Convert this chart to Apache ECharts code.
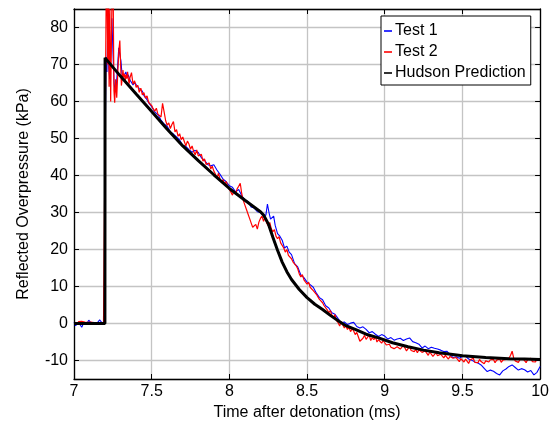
<!DOCTYPE html>
<html><head><meta charset="utf-8">
<script src="https://cdn.jsdelivr.net/npm/echarts@6/dist/echarts.min.js"></script>
<style>html,body{margin:0;padding:0;background:#fff}#c{width:552px;height:426px}</style>
</head><body><div id="c"></div>
<script>
// ---- Data ----
const seriesNames = ["Test 1", "Test 2", "Hudson Prediction"];
const xTicks = [7, 7.5, 8, 8.5, 9, 9.5, 10];
const yTicks = [-10, 0, 10, 20, 30, 40, 50, 60, 70, 80];

const test1Time = [
7.000,7.010,7.020,7.030,7.040,7.050,7.060,7.070,7.080,7.095,7.110,7.125,7.140,7.155,7.165,7.180,7.195,
7.200,7.206,7.212,7.218,7.224,7.230,7.237,7.244,7.251,7.258,7.265,7.272,7.280,7.288,7.295,7.302,7.310,7.318,7.326,7.334,7.342,7.350,
7.360,7.370,7.380,7.390,7.400,7.410,7.420,7.430,7.440,7.450,7.460,7.470,7.480,7.490,7.500,
7.52,7.54,7.56,7.58,7.60,7.62,7.64,7.66,7.68,7.70,7.72,7.74,7.76,7.78,7.80,7.82,7.84,7.86,7.88,7.90,
7.92,7.94,7.96,7.98,8.00,8.02,8.04,8.06,8.08,8.10,8.12,8.14,8.16,8.18,8.20,8.22,8.235,8.245,8.255,8.265,
8.275,8.285,8.295,8.31,8.325,8.34,8.355,8.37,8.385,8.40,8.42,8.44,8.46,8.48,8.50,8.52,8.54,8.56,8.58,8.60,
8.62,8.64,8.66,8.68,8.70,8.72,8.74,8.76,8.78,8.80,8.82,8.84,8.86,8.88,8.90,8.92,8.94,8.96,8.98,9.00,
9.02,9.04,9.06,9.08,9.10,9.12,9.14,9.16,9.18,9.20,9.22,9.24,9.26,9.28,9.30,9.32,9.34,9.36,9.38,9.40,
9.42,9.44,9.46,9.48,9.50,9.52,9.54,9.56,9.58,9.60,9.62,9.64,9.66,9.68,9.70,9.72,9.74,9.76,9.78,9.80,
9.82,9.84,9.86,9.88,9.90,9.92,9.94,9.96,9.98,10.00];
const test1Values = [
0.3,-0.6,-0.8,0.2,-0.4,-1.0,0.0,0.4,-0.2,0.9,0.1,0.3,-0.1,0.4,1.0,0.2,0.3,
45,72,68,81.5,69,66,74,82.5,73,65,62.5,64,69,74.5,75,71,67,67.5,67.3,68,66.5,67.2,
65.8,66,64.5,65.2,64.6,64.8,63.5,63.3,62.8,61.6,61.8,60.5,59.7,59.9,58.6,
57.2,56.4,55.0,53.9,53.3,51.8,51.2,50.4,49.6,48.2,47.9,47.0,46.3,46.8,46.2,44.8,44.1,43.0,42.6,42.9,
41.5,40.3,39.0,38.3,37.2,36.8,35.6,36.2,34.5,33.4,33.0,31.5,31.2,30.2,30.0,29.0,29.3,32.3,30.0,28.2,
28.6,29.0,26.5,24.3,23.6,22.5,20.4,20.9,19.3,18.6,16.2,15.3,13.1,12.4,11.2,10.5,9.8,8.2,7.0,6.4,
4.8,4.2,2.9,2.5,1.3,0.2,0.4,-0.3,0.1,0.3,-0.8,-1.2,-0.9,-1.6,-2.5,-2.2,-2.9,-3.5,-3.0,-3.4,
-4.2,-3.8,-4.5,-4.2,-4.0,-4.6,-4.2,-3.9,-4.9,-5.2,-5.6,-6.6,-6.1,-6.8,-6.4,-6.7,-6.9,-7.2,-7.6,-7.5,
-8.4,-9.2,-9.0,-9.4,-8.9,-8.8,-9.6,-9.9,-10.4,-10.7,-11.2,-12.1,-13.0,-12.6,-12.9,-13.5,-13.9,-12.8,-12.3,-11.6,
-11.2,-11.9,-12.6,-12.2,-12.5,-13.1,-12.7,-13.9,-13.2,-11.6];

const test2Time = [
7.000,7.010,7.020,7.030,7.040,7.050,7.060,7.070,7.080,7.090,7.100,7.110,7.120,7.130,7.140,7.150,7.160,7.170,7.180,7.190,7.198,
7.202,7.207,7.212,7.217,7.221,7.226,7.231,7.236,7.242,7.247,7.252,7.257,7.262,7.268,7.275,7.282,7.289,7.295,7.300,
7.305,7.310,7.315,7.320,7.325,7.330,7.335,7.340,7.345,7.350,7.355,7.360,
7.37,7.38,7.39,7.40,7.41,7.42,7.43,7.44,7.45,7.46,7.47,7.48,7.49,7.50,
7.51,7.52,7.53,7.54,7.55,7.56,7.57,7.58,7.59,7.60,7.61,7.62,7.63,7.64,7.65,7.66,7.67,7.68,7.69,7.70,
7.71,7.72,7.73,7.74,7.75,7.76,7.77,7.78,7.79,7.80,7.81,7.82,7.83,7.84,7.85,7.86,7.87,7.88,7.89,7.90,
7.91,7.92,7.93,7.94,7.95,7.96,7.97,7.98,7.99,8.00,8.01,8.02,8.03,8.04,8.05,8.06,8.07,8.08,8.09,8.10,
8.11,8.12,8.13,8.14,8.15,8.16,8.17,8.18,8.19,8.20,8.21,8.22,8.23,8.24,8.25,8.26,8.27,8.28,8.29,8.30,
8.31,8.32,8.33,8.34,8.35,8.36,8.37,8.38,8.39,8.40,8.41,8.42,8.43,8.44,8.45,8.46,8.47,8.48,8.49,8.50,
8.51,8.52,8.53,8.54,8.55,8.56,8.57,8.58,8.59,8.60,8.61,8.62,8.63,8.64,8.65,8.66,8.67,8.68,8.69,8.70,
8.71,8.72,8.73,8.74,8.75,8.76,8.77,8.78,8.79,8.80,8.81,8.82,8.83,8.84,8.85,8.86,8.87,8.88,8.89,8.90,
8.91,8.92,8.93,8.94,8.95,8.96,8.97,8.98,8.99,9.00,9.01,9.02,9.03,9.04,9.05,9.06,9.07,9.08,9.09,9.10,
9.11,9.12,9.13,9.14,9.15,9.16,9.17,9.18,9.19,9.20,9.21,9.22,9.23,9.24,9.25,9.26,9.27,9.28,9.29,9.30,
9.31,9.32,9.33,9.34,9.35,9.36,9.37,9.38,9.39,9.40,9.41,9.42,9.43,9.44,9.45,9.46,9.47,9.48,9.49,9.50,
9.51,9.52,9.53,9.54,9.55,9.56,9.57,9.58,9.59,9.60,9.61,9.62,9.63,9.64,9.65,9.66,9.67,9.68,9.69,9.70,
9.71,9.72,9.73,9.74,9.75,9.76,9.77,9.78,9.79,9.80,9.81,9.82,9.83,9.84,9.85,9.86,9.87,9.88,9.89,9.90,
9.91,9.92,9.93,9.94,9.95,9.96,9.97,9.98,9.99,10.00];
const test2Values = [
-0.2,0.3,-0.1,0.5,0.2,0.6,0.1,0.4,0.0,0.3,0.2,0.4,0.1,0.2,0.5,0.1,0.3,0.2,0.4,0.1,0.3,
60,88,92,70,95,64,85,60,80,95,90,63,59.7,66,61,68,74,76.5,70,
64.3,66,68.5,66.5,67.5,65.8,67.2,66.2,68,66,64.8,66.4,
67.8,64.7,65.6,63.8,64.4,62.5,63.6,61.8,62.4,60.9,61.5,59.8,60.3,58.9,
58.0,57.4,58.2,56.6,57.0,55.8,59.5,57.2,54.8,53.6,54.2,52.7,53.8,54.6,51.8,52.4,50.6,51.3,49.7,50.4,
49.2,48.0,49.3,48.5,47.1,48.0,46.5,45.6,46.9,45.3,44.8,45.7,43.9,44.5,43.0,42.6,43.4,41.8,42.5,41.2,
40.4,39.3,40.6,39.0,38.2,38.9,37.6,38.4,37.0,36.2,35.5,34.7,35.8,35.0,36.4,37.1,37.9,35.0,33.2,32.0,
30.8,29.6,28.4,27.2,26.0,25.6,26.8,25.5,27.4,28.4,29.0,27.6,28.8,27.2,26.4,27.3,25.6,24.8,25.4,23.6,
22.9,23.5,21.8,22.2,20.4,19.3,20.0,18.4,18.9,17.5,16.6,17.0,15.6,14.8,13.4,12.6,13.2,11.8,12.1,10.6,
11.2,9.8,10.1,8.9,9.4,7.9,7.2,6.5,7.0,5.6,4.8,5.2,3.7,2.9,3.5,2.2,1.6,2.4,0.8,0.2,
-0.7,0.5,-0.4,-1.2,-0.6,-1.6,-1.0,-2.2,-1.4,-2.0,-3.0,-2.4,-3.6,-4.8,-5.3,-4.0,-3.2,-4.3,-3.9,-3.1,
-4.6,-3.8,-4.4,-3.5,-5.0,-4.4,-4.9,-5.3,-4.6,-5.1,-5.8,-6.2,-5.6,-6.4,-5.9,-6.8,-7.1,-6.3,-6.0,-6.9,
-6.4,-5.9,-6.6,-7.4,-6.8,-6.2,-7.3,-6.9,-7.6,-7.0,-7.9,-7.1,-6.6,-7.8,-8.3,-7.4,-8.0,-8.6,-7.7,-8.2,
-8.9,-8.5,-7.9,-8.7,-9.1,-8.3,-8.8,-9.3,-8.6,-9.0,-9.6,-8.9,-8.6,-9.4,-9.9,-9.2,-9.7,-10.3,-9.5,-9.9,
-10.4,-9.6,-10.1,-10.8,-9.8,-10.2,-9.4,-10.5,-10.0,-10.6,-9.7,-10.3,-9.9,-10.9,-10.1,-9.6,-10.4,-9.8,-10.2,-9.7,
-10.6,-9.9,-10.3,-9.6,-10.5,-9.9,-10.4,-9.7,-10.2,-9.4,-8.6,-7.5,-9.3,-10.1,-9.6,-10.5,-9.8,-10.3,-9.5,-10.0,
-10.6,-9.7,-10.2,-9.4,-10.3,-9.8,-10.4,-9.6,-10.1,-9.8];

const hudsonTime = [7.0,7.199,7.2,7.3,7.4,7.5,7.6,7.7,7.8,7.9,8.0,8.1,8.2,8.22,8.25,8.28,8.31,8.34,8.37,8.40,
8.45,8.5,8.55,8.6,8.65,8.705,8.75,8.81,8.88,8.96,9.05,9.15,9.25,9.35,9.5,9.65,9.8,9.9,10.0];
const hudsonValues = [0,0,71.8,66.8,62.0,57.3,52.5,48.0,44.0,40.2,36.5,33.3,30.2,29.3,27.0,23.3,19.8,16.6,14.0,11.9,
9.2,7.0,5.2,3.8,2.2,0.6,-0.6,-1.6,-2.9,-3.9,-5.2,-6.3,-7.2,-7.9,-8.7,-9.2,-9.5,-9.6,-9.7];

function pairs(t, v) { return t.map((x, i) => [x, v[i]]); }

const FONT = 'Liberation Sans, Arial, sans-serif';
const chart = echarts.init(document.getElementById('c'), null, {renderer: 'canvas'});
chart.setOption({
  animation: false,
  backgroundColor: '#fff',
  grid: {left: 74, right: 9.5, top: 9, bottom: 47, containLabel: false},
  legend: {
    orient: 'vertical', left: 381, top: 16,
    backgroundColor: '#fff', borderColor: '#000', borderWidth: 1,
    padding: [7, 5, 4, 3], itemGap: 5, itemWidth: 8, itemHeight: 16,
    textStyle: {fontFamily: FONT, fontSize: 16, color: '#000', padding: [0,0,0,-2]},
    data: seriesNames.map(n => ({name: n, icon: 'path://M0,7L10,7L10,9L0,9Z'}))
  },
  xAxis: [{
    type: 'value', min: 7, max: 10, interval: 0.5,
    name: 'Time after detonation (ms)', nameLocation: 'middle', nameGap: 25,
    nameTextStyle: {fontFamily: FONT, fontSize: 16, color: '#000'},
    axisLine: {show: true, onZero: false, lineStyle: {color: '#000', width: 1.3}},
    axisTick: {show: true, inside: true, length: 5, lineStyle: {color: '#000'}},
    axisLabel: {fontFamily: FONT, fontSize: 16, color: '#000', margin: 5,
      formatter: v => xTicks.includes(+v.toFixed(2)) ? String(+v.toFixed(2)) : ''},
    splitLine: {show: true, lineStyle: {color: '#c4c4c4', width: 1.3}}
  }, {
    type: 'value', min: 7, max: 10, interval: 0.5, position: 'top',
    axisLine: {show: true, onZero: false, lineStyle: {color: '#000', width: 1.3}},
    axisTick: {show: true, inside: true, length: 5, lineStyle: {color: '#000'}},
    axisLabel: {show: false}, splitLine: {show: false}
  }],
  yAxis: [{
    type: 'value', min: -15, max: 85, splitNumber: 10,
    name: 'Reflected Overpressure (kPa)', nameLocation: 'middle', nameGap: 42,
    nameTextStyle: {fontFamily: FONT, fontSize: 16, color: '#000'},
    axisLine: {show: true, onZero: false, lineStyle: {color: '#000', width: 1.3}},
    axisTick: {show: true, inside: true, length: 5, lineStyle: {color: '#000'}},
    axisLabel: {fontFamily: FONT, fontSize: 16, color: '#000', margin: 6,
      formatter: v => yTicks.includes(Math.round(v)) && Math.abs(v - Math.round(v)) < 1e-6 ? String(Math.round(v)) : ''},
    splitLine: {show: true, lineStyle: {color: '#c4c4c4', width: 1.3}}
  }, {
    type: 'value', min: -15, max: 85, splitNumber: 10, position: 'right',
    axisLine: {show: true, onZero: false, lineStyle: {color: '#000', width: 1.3}},
    axisTick: {show: true, inside: true, length: 5, lineStyle: {color: '#000'}},
    axisLabel: {show: false}, splitLine: {show: false}
  }],
  series: [
    {name: seriesNames[0], type: 'line', data: pairs(test1Time, test1Values), showSymbol: false, symbol: 'none',
     lineStyle: {color: '#0000ff', width: 1.1}, itemStyle: {color: '#0000ff'}, clip: true, z: 2},
    {name: seriesNames[1], type: 'line', data: pairs(test2Time, test2Values), showSymbol: false, symbol: 'none',
     lineStyle: {color: '#ff0000', width: 1.2}, itemStyle: {color: '#ff0000'}, clip: true, z: 3},
    {name: seriesNames[2], type: 'line', data: pairs(hudsonTime, hudsonValues), showSymbol: false, symbol: 'none', smooth: false,
     lineStyle: {color: '#000', width: 3}, itemStyle: {color: '#000'}, clip: true, z: 4}
  ]
});
</script></body></html>
